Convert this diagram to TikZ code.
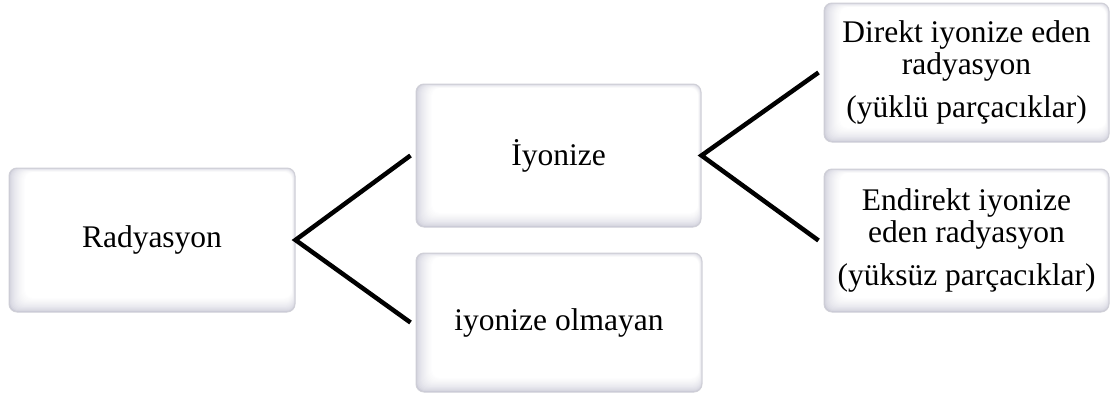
\documentclass[tikz,border=0pt]{standalone}
\usepackage{fontspec}
\setmainfont{Liberation Serif}
\definecolor{bev}{RGB}{200,200,214}
\definecolor{rimline}{RGB}{208,208,215}
\tikzset{
  panel/.style={rounded corners=8pt, draw=rimline, line width=1pt, fill=white,
    align=center, inner sep=0pt,
    font=\fontsize{31.5}{32}\selectfont,
    path picture={
      \foreach \k in {0,...,16}{
        \pgfmathsetmacro{\t}{\k/16}
        \pgfmathsetmacro{\w}{100*sqrt(\t)}
        \fill[white!\w!bev]
          ([xshift=16*\t pt, yshift=14*\t pt]path picture bounding box.south west)
          rectangle
          ([xshift=-3*\t pt, yshift=-4*\t pt]path picture bounding box.north east);
      }
    }},
  conn/.style={line width=4.5pt, line join=miter, black}
}
\begin{document}
\begin{tikzpicture}[x=1pt,y=-1pt]
  \useasboundingbox (0,0) rectangle (1114,397);

  % boxes
  \node[panel, minimum width=286pt, minimum height=144pt] (rad) at (152,240) {Radyasyon};
  \node[panel, minimum width=285pt, minimum height=143pt] (iyo) at (558.5,155.5) {İyonize};
  \node[panel, minimum width=286pt, minimum height=139pt] (non) at (559,322.5) {iyonize olmayan};
  \node[panel, minimum width=285pt, minimum height=139pt] (dir) at (966.5,72.5)
    {Direkt iyonize eden\\radyasyon\\[11pt](yüklü parçacıklar)};
  \node[panel, minimum width=285pt, minimum height=143pt] (ind) at (966.5,240.5)
    {Endirekt iyonize\\eden radyasyon\\[11pt](yüksüz parçacıklar)};

  % branching connectors
  \draw[conn] ([xshift=-5pt]iyo.west) -- (rad.east) -- ([xshift=-5pt]non.west);
  \draw[conn] ([xshift=-5pt]dir.west) -- (iyo.east) -- ([xshift=-5pt]ind.west);
\end{tikzpicture}
\end{document}
